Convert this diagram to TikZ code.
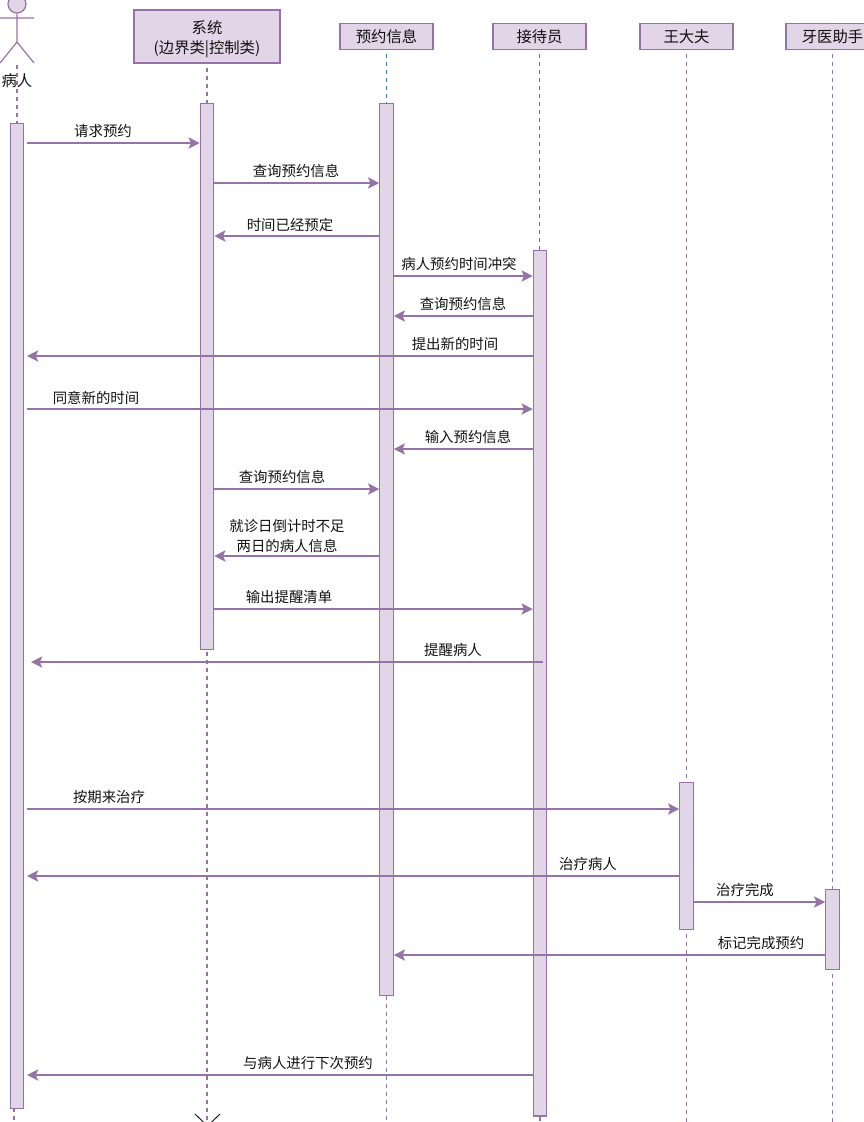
\documentclass[tikz,border=0pt]{standalone}
\usepackage{fontspec}
\setmainfont{Noto Sans CJK SC}
\usetikzlibrary{arrows.meta}
\definecolor{umlfill}{HTML}{E1D5E7}
\definecolor{umlline}{HTML}{9673A6}
\definecolor{umlblue}{HTML}{3F7FA6}
\definecolor{umltext}{HTML}{111111}
\tikzset{
	header/.style={draw=umlline, fill=umlfill, line width=0.9pt, text=umltext, font=\fontsize{11.5pt}{15pt}\selectfont, align=center, inner sep=0pt, minimum width=69.8pt, minimum height=20pt},
	bar/.style={draw=umlline, fill=umlfill, line width=0.9pt, anchor=north, inner sep=0pt, minimum width=10pt},
	life/.style={draw=umlline, dashed, line width=0.8pt, dash pattern=on 3pt off 3pt},
	lifeblue/.style={life, draw=umlblue},
	msg/.style={draw=umlline, line width=0.9pt, -{Stealth[length=8.5pt,width=8.5pt,inset=2pt]}},
	msglabel/.style={text=umltext, font=\fontsize{10.8pt}{15pt}\selectfont, align=center, inner sep=0pt}
}
\begin{document}
\begin{tikzpicture}[x=0.75pt, y=-0.75pt]
	\useasboundingbox (0,0) rectangle (864,1122);
	\begin{scope}
		\clip (0,0) rectangle (864,1122);
		% Define nodes
		\node[header, minimum width=109.5pt, minimum height=39.8pt] (system) at (207,36.5) {\rule{0pt}{14pt}系统\\(边界类|控制类)};
		\node[header] (info) at (386.5,36.5) {预约信息};
		\node[header] (clerk) at (539.5,36.5) {接待员};
		\node[header] (doctor) at (686.5,36.5) {王大夫};
		\node[header] (assistant) at (832.5,36.5) {牙医助手};
		
		% Draw the actor
		\node[circle, draw=umlline, fill=umlfill, line width=0.9pt, inner sep=0pt, minimum size=13.5pt] (head) at (17,4) {};
		\coordinate (arml) at (0,18); \coordinate (armr) at (34,18);
		\coordinate (hip) at (17,42); \coordinate (legl) at (0,63); \coordinate (legr) at (34,63);
		\draw[umlline, line width=0.9pt] (head.south) -- (hip) (arml) -- (armr) (legl) -- (hip) -- (legr);
		
		% Draw lifelines
		\coordinate (patienttop) at (17,65); \coordinate (patientmid) at (17,123);
		\coordinate (patientlow) at (14,1108); \coordinate (patientend) at (14,1122);
		\draw[life] (patienttop) -- (patientmid);
		\draw[life] (patientlow) -- (patientend);
		\foreach \who in {system, doctor, assistant}
			\draw[life, shorten <=3pt] (\who.south) -- (\who.south |- 0,1122);
		\foreach \who/\yy in {info/103, clerk/250}
			\draw[lifeblue, shorten <=3pt] (\who.south) -- (\who.south |- 0,\yy);
		\node[msglabel, font=\fontsize{11.5pt}{15pt}\selectfont] (patient) at (17,81) {病人};
		
		% Define activation bars
		\node[bar, minimum height=738.75pt] (barpatient) at (17,123) {};
		\node[bar, minimum height=409.5pt] (barsystem) at (207,103) {};
		\node[bar, minimum height=669pt] (barinfo) at (386.5,103) {};
		\node[bar, minimum height=649pt] (barclerk) at (540,250) {};
		\node[bar, minimum height=110.25pt] (bardoctor) at (686.5,782) {};
		\node[bar, minimum height=60pt] (barassistant) at (832.5,889) {};
		\draw[life] (barinfo.south) -- (barinfo.south |- 0,1122);
		\draw[life] (barclerk.south) -- (barclerk.south |- 0,1122);
		\coordinate (patientin) at (27,0); \coordinate (patientnear) at (31,0); \coordinate (clerkin) at (543,0);
		
		% Draw messages
		\foreach \src/\dst/\yy/\lx/\ly/\txt [count=\i] in {
			patientin/barsystem.west/143/103/131/请求预约,
			barsystem.east/barinfo.west/183/296/171/查询预约信息,
			barinfo.west/barsystem.east/236/290/224.5/时间已经预定,
			barinfo.east/barclerk.west/276/459/264/病人预约时间冲突,
			barclerk.west/barinfo.east/316/463/304/查询预约信息,
			barclerk.west/patientin/356/455/344/提出新的时间,
			patientin/barclerk.west/409/96/397.5/同意新的时间,
			barclerk.west/barinfo.east/449/468/437/输入预约信息,
			barsystem.east/barinfo.west/489/282/477/查询预约信息,
			barinfo.west/barsystem.east/556/287/536/{就诊日倒计时不足\\两日的病人信息},
			barsystem.east/barclerk.west/609/289/597/输出提醒清单,
			clerkin/patientnear/662/453/650/提醒病人,
			patientin/bardoctor.west/809/109/797/按期来治疗,
			bardoctor.west/patientin/876/588/864/治疗病人,
			bardoctor.east/barassistant.west/902/745/890/治疗完成,
			barassistant.west/barinfo.east/955/761/943/标记完成预约,
			barclerk.west/patientin/1075/308/1063/与病人进行下次预约}
		{
			\draw[msg] (\src |- 0,\yy) -- (\dst |- 0,\yy);
			\node[msglabel] (label\i) at (\lx,\ly) {\txt};
		}
		
		% Draw the end mark
		\coordinate (endl) at (195,1114); \coordinate (endr) at (220,1114); \coordinate (endc) at (207.5,1126);
		\draw[umltext, line width=0.7pt] (endl) -- (endc) -- (endr);
	\end{scope}
\end{tikzpicture}
\end{document}
